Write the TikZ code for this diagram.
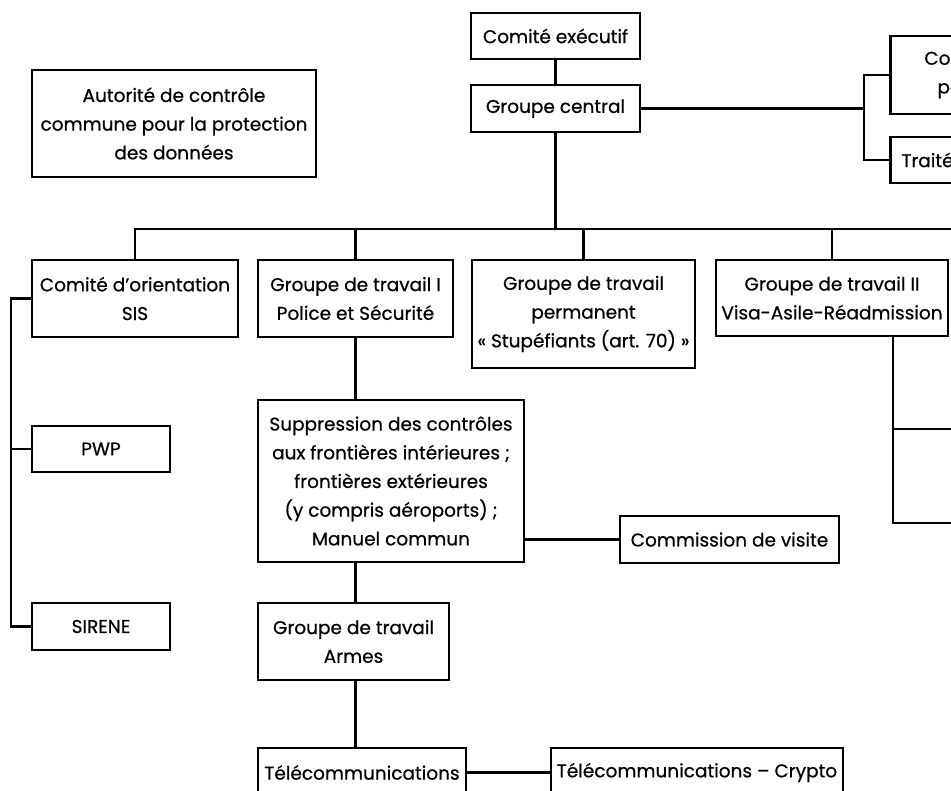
\documentclass[tikz,border=0pt]{standalone}
\usepackage{fontspec}
\setmainfont{Poppins}

\begin{document}
\begin{tikzpicture}[x=1pt,y=-1pt,
  box/.style={draw,line width=2.8pt,inner sep=2pt,align=center,font=\fontsize{18.5}{28.7}\selectfont\addfontfeatures{FakeBold=0.6}},
  link/.style={line width=2.8pt}]
\useasboundingbox (0,0) rectangle (951,791);
\clip (0,0) rectangle (951,791);

\node[box,minimum width=169pt,minimum height=46pt] (exec) at (555.5,36) {Comité exécutif};
\node[box,minimum width=169pt,minimum height=47pt] (central) at (555.5,108.5) {Groupe central};
\node[box,minimum width=284pt,minimum height=107pt] (autorite) at (174,123.5) {Autorité de contrôle\\commune pour la protection\\des données};
\node[box,anchor=west,minimum height=78pt,inner xsep=34pt,text width=100pt,align=left] (comite) at (889,75) {Co\\\hspace*{13pt}po};
\node[box,anchor=west,minimum height=46pt,inner xsep=11pt,text width=90pt,align=left] (traites) at (889,160) {Traités};

\node[box,minimum width=206pt,minimum height=77pt] (sis) at (135,298.5) {Comité d'orientation\\SIS};
\node[box,minimum width=195pt,minimum height=77pt] (gt1) at (355.5,298.5) {Groupe de travail I\\Police et Sécurité};
\node[box,minimum width=223pt,minimum height=108pt] (stup) at (583.5,314) {Groupe de travail\\permanent\\« Stupéfiants (art. 70) »};
\node[box,minimum width=232pt,minimum height=76pt] (gt2) at (832,298) {Groupe de travail II\\Visa-Asile-Réadmission};

\node[box,minimum width=138pt,minimum height=46pt] (pwp) at (101,449) {PWP};
\node[box,minimum width=138pt,minimum height=47pt] (sirene) at (101,626.5) {SIRENE};

\node[box,minimum width=266pt,minimum height=162pt] (supp) at (391,481) {Suppression des contrôles\\aux frontières intérieures ;\\frontières extérieures\\(y compris aéroports) ;\\Manuel commun};
\node[box,minimum width=219pt,minimum height=47pt] (visite) at (729.5,539.5) {Commission de visite};
\node[box,minimum width=191pt,minimum height=77pt] (armes) at (353.5,641.5) {Groupe de travail\\Armes};
\node[box,minimum width=208pt,minimum height=49pt] (telecom) at (362,772.5) {Télécommunications};
\node[box,minimum width=292pt,minimum height=49pt] (crypto) at (697,772.5) {Télécommunications – Crypto};

\coordinate (bar) at (960,229);
\coordinate (fork) at (864,108.5);
\coordinate (sisleft) at (11,298.5);
\coordinate (gt2drop) at (893,523);
\coordinate (rima) at (960,429);
\coordinate (rimb) at (960,523);

\draw[link] (exec)--(central);
\draw[link] (central.south)--(central.south |- bar);
\draw[link] (sis.north)--(sis.north |- bar)--(bar);
\draw[link] (gt1.north)--(gt1.north |- bar);
\draw[link] (stup.north)--(stup.north |- bar);
\draw[link] (gt2.north)--(gt2.north |- bar);
\draw[link] (central.east)--(fork);
\draw[link] (comite.west)-|(fork)|-(traites.west);
\draw[link] (sis.west)--(sisleft)|-(sirene.west);
\draw[link] (sisleft |- pwp.west)--(pwp.west);
\draw[link] (gt2drop |- gt2.south)--(gt2drop)--(rimb);
\draw[link] (gt2drop |- rima)--(rima);
\draw[link] (gt1.south)--(gt1.south |- supp.north);
\draw[link] (visite.west)--(visite.west -| supp.east);
\draw[link] (gt1.south |- supp.south)--(gt1.south |- armes.north);
\draw[link] (gt1.south |- armes.south)--(gt1.south |- telecom.north);
\draw[link] (telecom.east)--(crypto.west);
\end{tikzpicture}
\end{document}
